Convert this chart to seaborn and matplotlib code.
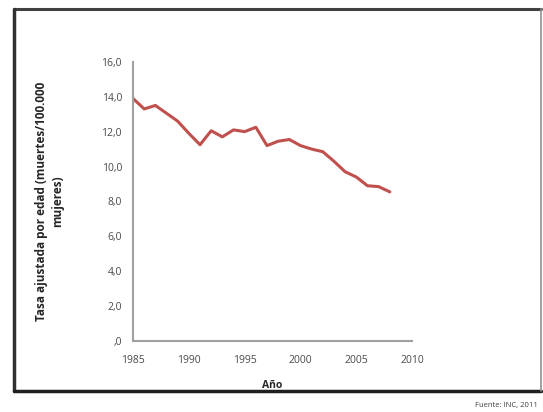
import pandas as pd
import matplotlib.pyplot as plt
import seaborn as sns
from matplotlib.lines import Line2D

# Values
years = [1985, 1986, 1987, 1988, 1989, 1990, 1991, 1992, 1993, 1994, 1995, 1996,
         1997, 1998, 1999, 2000, 2001, 2002, 2003, 2004, 2005, 2006, 2007, 2008]
rates = [13.9, 13.3, 13.5, 13.05, 12.6, 11.9, 11.25, 12.05, 11.7, 12.1, 12.0, 12.25,
         11.2, 11.45, 11.55, 11.2, 11.0, 10.85, 10.3, 9.7, 9.4, 8.9, 8.85, 8.55]
y_ticks = [0, 2, 4, 6, 8, 10, 12, 14, 16]
y_tick_labels = [",0", "2,0", "4,0", "6,0", "8,0", "10,0", "12,0", "14,0", "16,0"]
x_ticks = [1985, 1990, 1995, 2000, 2005, 2010]

sns.set_style("white")
plt.rcParams['font.family'] = ['Open Sans', 'DejaVu Sans']

df = pd.DataFrame({'year': years, 'rate': rates})

fig = plt.figure(figsize=(5.43, 4.12), dpi=100)
ax = fig.add_axes([0.245, 0.172, 0.514, 0.678])

sns.lineplot(data=df, x='year', y='rate', ax=ax, color='#c0504d', linewidth=2.2)
for l in ax.lines:
    l.set_solid_joinstyle('round')
    l.set_solid_capstyle('round')

ax.set_xlim(1985, 2010)
ax.set_ylim(0, 16)
ax.set_xticks(x_ticks)
ax.set_xticklabels([str(x) for x in x_ticks], fontsize=7.5, color='#4a4a4a')
ax.set_yticks(y_ticks)
ax.set_yticklabels(y_tick_labels, fontsize=7.5, color='#4a4a4a')
ax.tick_params(axis='x', length=0, pad=10)
ax.tick_params(axis='y', length=0, pad=8)

for side in ['top', 'right']:
    ax.spines[side].set_visible(False)
for side in ['left', 'bottom']:
    ax.spines[side].set_color('#a0a0a0')
    ax.spines[side].set_linewidth(1.5)

ax.set_xlabel('Año', fontsize=7.5, fontweight='bold', labelpad=10)
ax.set_ylabel('Tasa ajustada por edad (muertes/100.000\nmujeres)', fontsize=8.5,
              fontweight='bold', labelpad=27, linespacing=1.25)

# outer frame like the pasted figure
W, H = 543, 412
def px(x, y):
    return x / W, 1 - y / H
x0, y0 = px(14, 9)
x1, y1 = px(541, 391)
fig.add_artist(Line2D([x0, x1], [y0, y0], color='#404040', lw=2.2))
fig.add_artist(Line2D([x0, x0], [y0, y1], color='#303030', lw=2.5))
fig.add_artist(Line2D([x0, x1], [y1, y1], color='#202020', lw=2.5))
fig.add_artist(Line2D([x1, x1], [y0, y1], color='#909090', lw=1.2))

fig.text(538 / W, 1 - 405 / H, 'Fuente: INC, 2011', fontsize=5.5, ha='right',
         va='center', color='#404040')

fig.savefig('out.png', dpi=100)
